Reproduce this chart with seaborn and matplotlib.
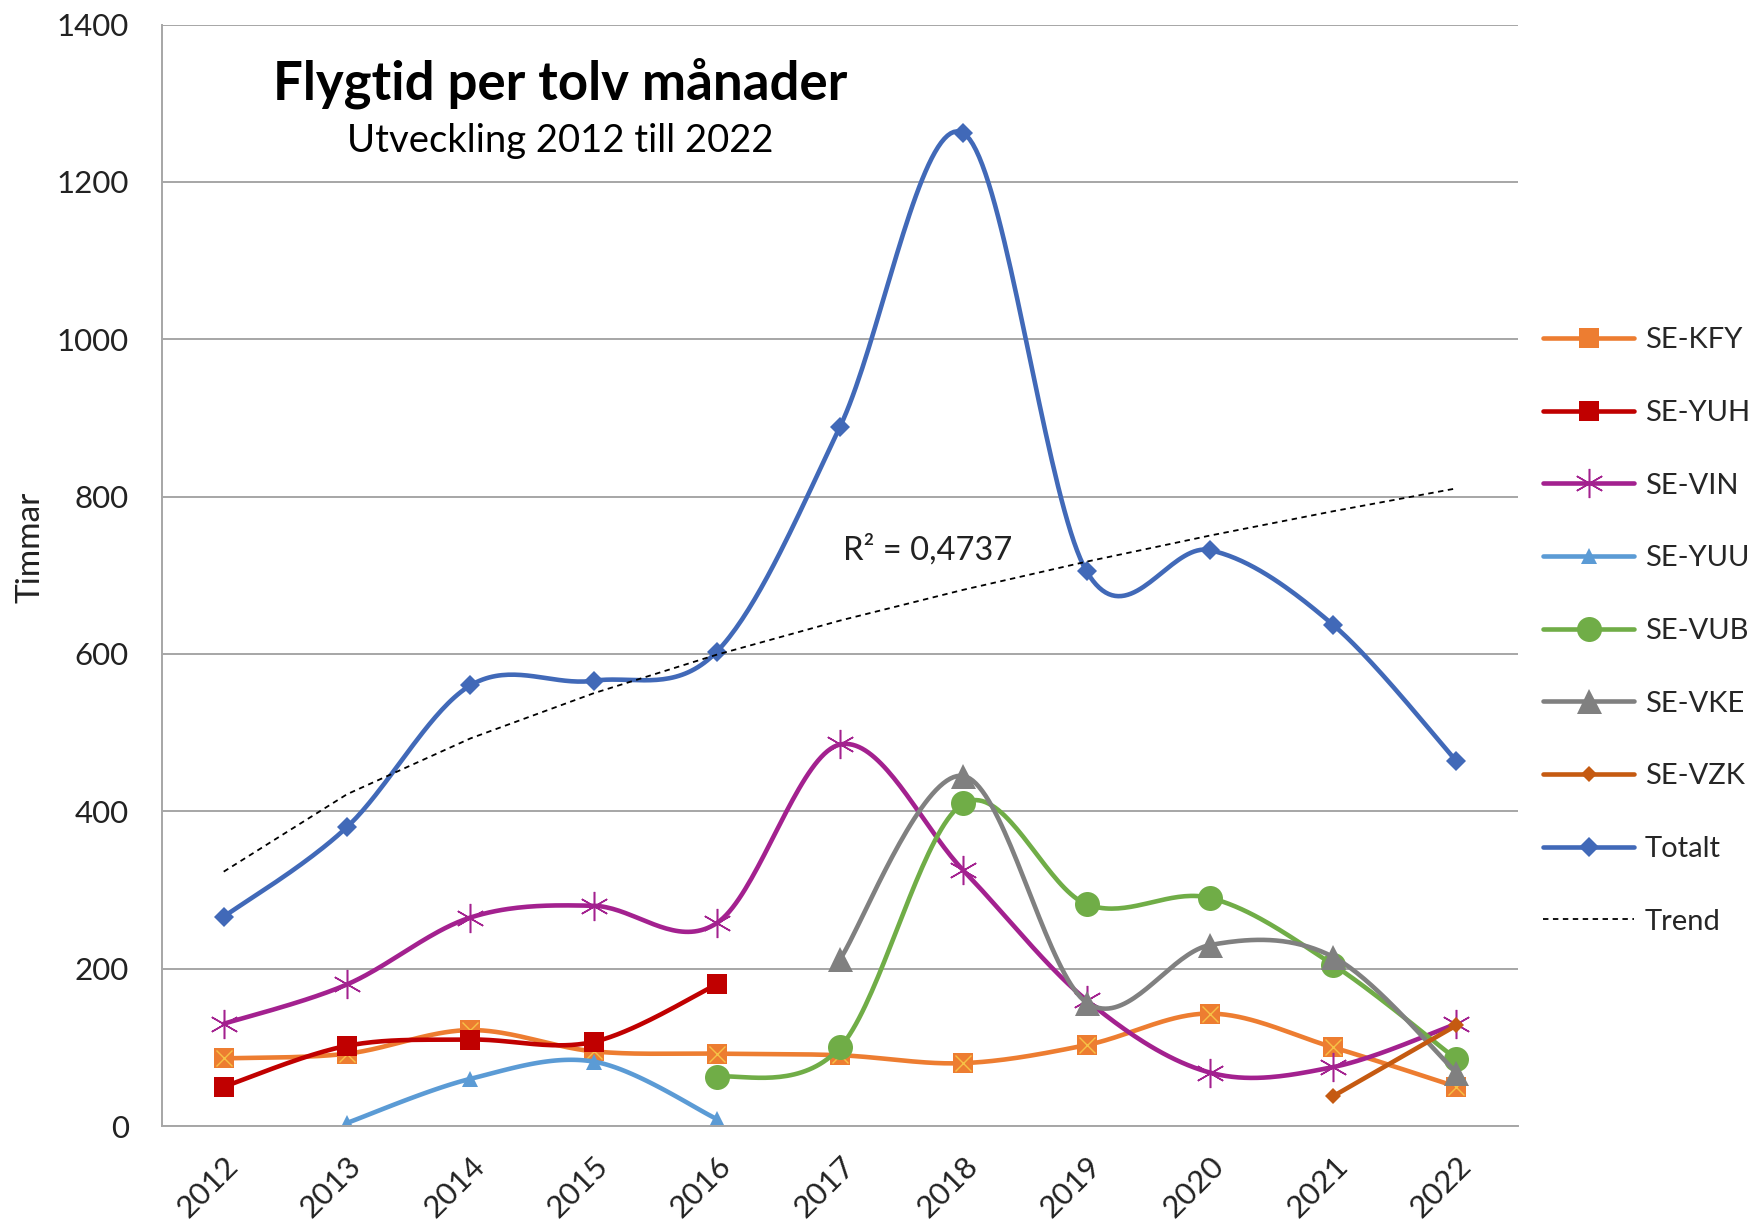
import numpy as np
import pandas as pd
import matplotlib
matplotlib.use("Agg")
import matplotlib.pyplot as plt
from matplotlib.lines import Line2D
import seaborn as sns

# data (hours per year)
years = ["2012", "2013", "2014", "2015", "2016", "2017", "2018", "2019", "2020", "2021", "2022"]
nan = np.nan
se_kfy = [86, 92, 122, 95, 92, 90, 80, 103, 143, 100, 50]
se_yuh = [50, 102, 110, 107, 180, nan, nan, nan, nan, nan, nan]
se_vin = [130, 180, 265, 280, 258, 485, 325, 160, 68, 75, 130]
se_yuu = [nan, 4, 60, 82, 9, nan, nan, nan, nan, nan, nan]
se_vub = [nan, nan, nan, nan, 62, 100, 410, 282, 290, 205, 85]
se_vke = [nan, nan, nan, nan, nan, 212, 445, 157, 230, 215, 68]
se_vzk = [nan, nan, nan, nan, nan, nan, nan, nan, nan, 38, 128]
totalt = [266, 380, 560, 566, 603, 889, 1262, 705, 732, 637, 464]
r2_text = "R² = 0,4737"

series = [
    # name, values, colour, marker, marker size, marker edge width
    ("SE-KFY", se_kfy, "#ED7D31", "s", 14, 0),
    ("SE-YUH", se_yuh, "#C00000", "s", 14, 0),
    ("SE-VIN", se_vin, "#A3218F", (6, 2, 0), 21, 1.1),
    ("SE-YUU", se_yuu, "#5B9BD5", "^", 11, 0),
    ("SE-VUB", se_vub, "#70AD47", "o", 18, 0),
    ("SE-VKE", se_vke, "#808080", "^", 18, 0),
    ("SE-VZK", se_vzk, "#C55A11", "D", 8, 0),
    ("Totalt", totalt, "#4169B8", "D", 10, 0),
]


def smooth(xs, ys, n=40):
    # bezier segments like a smoothed office chart line
    xs = np.asarray(xs, float)
    ys = np.asarray(ys, float)
    if len(xs) < 3:
        return xs, ys
    px, py = [], []
    for i in range(len(xs) - 1):
        i0 = max(i - 1, 0)
        i3 = min(i + 2, len(xs) - 1)
        p0 = np.array([xs[i0], ys[i0]])
        p1 = np.array([xs[i], ys[i]])
        p2 = np.array([xs[i + 1], ys[i + 1]])
        p3 = np.array([xs[i3], ys[i3]])
        c1 = p1 + (p2 - p0) / 6
        c2 = p2 - (p3 - p1) / 6
        t = np.linspace(0, 1, n)[:, None]
        pts = (1 - t) ** 3 * p1 + 3 * (1 - t) ** 2 * t * c1 + 3 * (1 - t) * t ** 2 * c2 + t ** 3 * p2
        px.extend(pts[:, 0])
        py.extend(pts[:, 1])
    return np.array(px), np.array(py)


sns.set_theme(style="white")
plt.rcParams["font.family"] = ["Lato", "DejaVu Sans"]

fig = plt.figure(figsize=(17.56, 12.28), dpi=100)
ax = fig.add_axes([0.0923, 0.083, 0.7722, 0.897])

xi = np.arange(len(years))
handles = []
for name, vals, col, mk, ms, mew in series:
    v = np.asarray(vals, float)
    ok = ~np.isnan(v)
    cx, cy = smooth(xi[ok], v[ok])
    sns.lineplot(x=cx, y=cy, ax=ax, sort=False, estimator=None, color=col, lw=3.3)
    if name == "SE-VIN":
        ax.plot(xi[ok], v[ok], ls="none", marker=mk, ms=ms, mec=col, mew=mew, mfc="none")
    else:
        ax.plot(xi[ok], v[ok], ls="none", marker=mk, ms=ms, color=col, mew=0)
    if name == "SE-KFY":
        ax.plot(xi[ok], v[ok], ls="none", marker="x", ms=ms * 0.8, mec="#F6C146", mew=1)
    h = Line2D([], [], color=col, lw=3.3, marker=mk, ms=ms,
               mfc="none" if name == "SE-VIN" else col, mec=col, mew=mew)
    handles.append(h)

# power trend line fitted on Totalt (log-log least squares)
tx = xi + 1.0
b, lna = np.polyfit(np.log(tx), np.log(totalt), 1)
tline = np.exp(lna) * tx ** b
sns.lineplot(x=xi, y=tline, ax=ax, color="black", lw=1.3, linestyle=(0, (3, 2.5)))
handles.append(Line2D([], [], color="black", lw=1.3, linestyle=(0, (3, 2.5))))

ax.text(5.02, 733, r2_text, fontsize=23.5, ha="left", va="center", color="#222222")

ax.set_xlim(-0.5, len(years) - 0.5)
ax.set_ylim(0, 1400)
ax.set_yticks(range(0, 1401, 200))
ax.set_xticks(xi)
ax.set_xticklabels(years, rotation=45, ha="right", rotation_mode="anchor")
ax.tick_params(axis="y", labelsize=22.5, length=0, pad=24, colors="#222222")
ax.tick_params(axis="x", labelsize=22.5, length=0, pad=18, colors="#222222")
ax.yaxis.grid(True, color="#A6A6A6", lw=1.4)
ax.set_axisbelow(True)
for s in ["top", "right"]:
    ax.spines[s].set_visible(False)
for s in ["left", "bottom"]:
    ax.spines[s].set_color("#A6A6A6")
    ax.spines[s].set_linewidth(1.4)
ax.set_xlabel("")
ax.set_ylabel("Timmar", fontsize=24, color="#222222")
ax.yaxis.set_label_coords(-0.086, 0.525)

ax.text(0.2935, 0.947, "Flygtid per tolv månader", transform=ax.transAxes,
        fontsize=38, fontweight="bold", ha="center", va="center", color="black")
ax.text(0.2935, 0.894, "Utveckling 2012 till 2022", transform=ax.transAxes,
        fontsize=27.5, ha="center", va="center", color="black")

names = [s[0] for s in series] + ["Trend"]
fig.legend(handles, names, loc="upper left", bbox_to_anchor=(0.872, 0.743),
           frameon=False, fontsize=21, handlelength=3.14, handletextpad=0.35,
           labelspacing=1.6, borderaxespad=0)

fig.savefig("out.png", dpi=100)
